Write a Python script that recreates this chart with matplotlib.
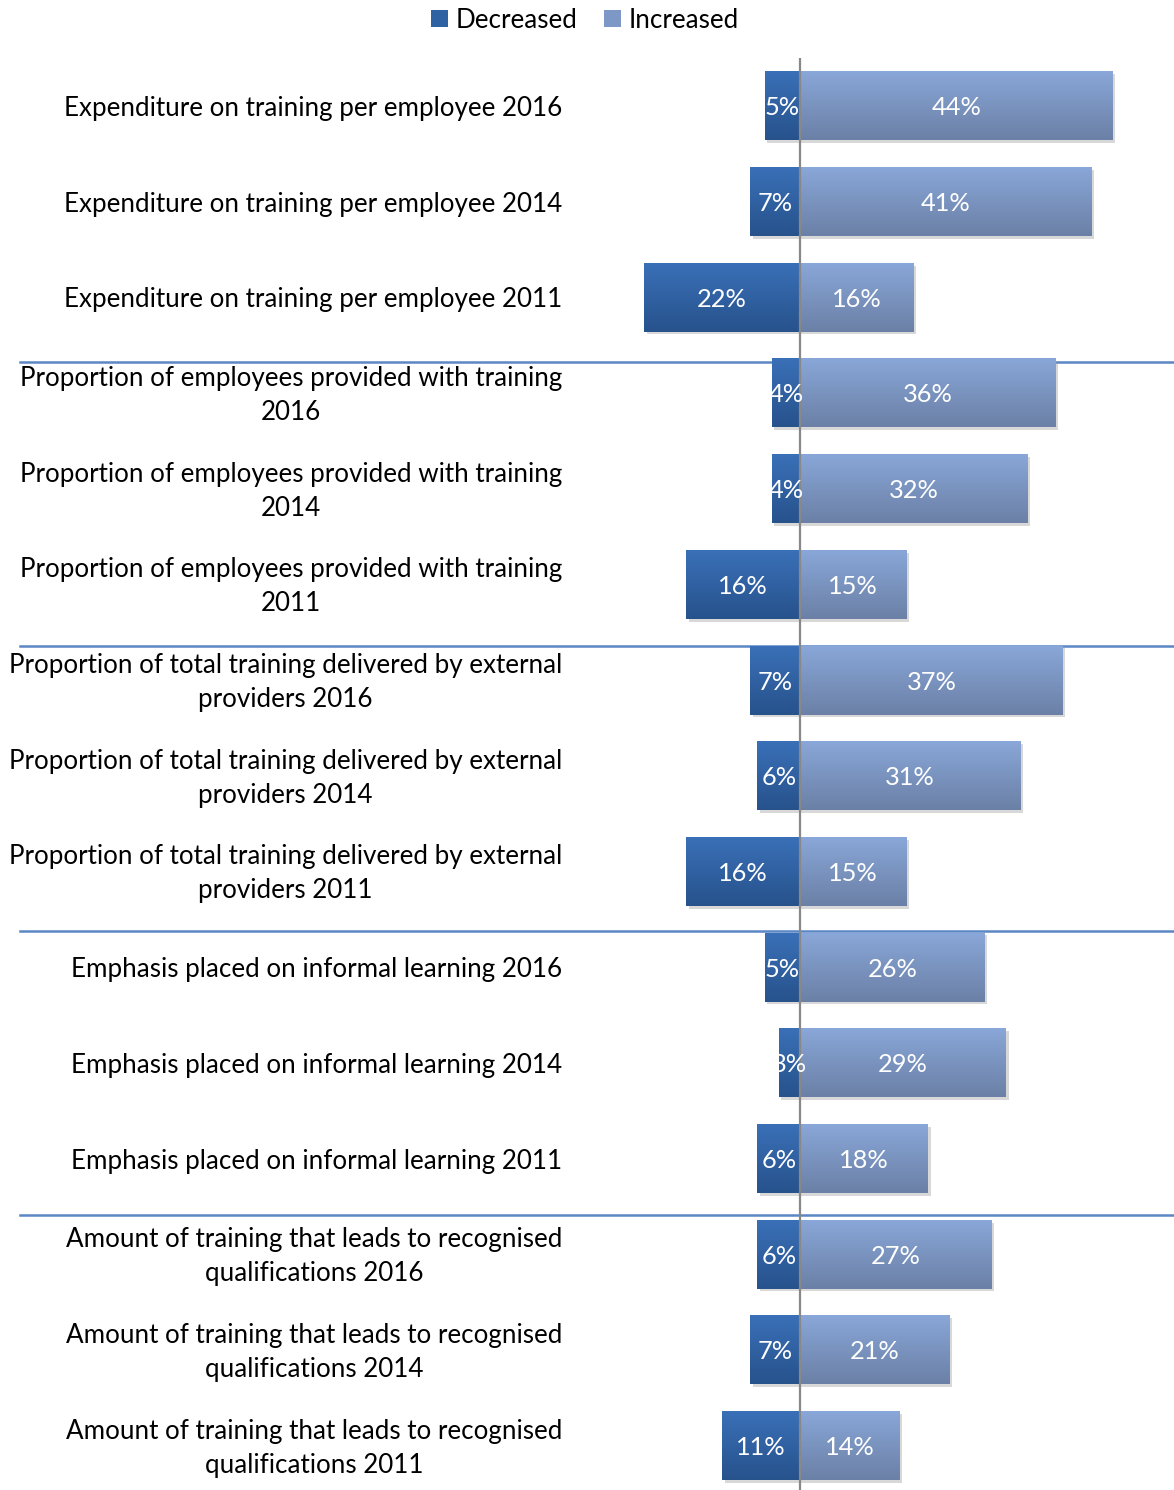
import matplotlib
matplotlib.use("Agg")
import matplotlib.pyplot as plt
import numpy as np
from matplotlib.colors import LinearSegmentedColormap
from matplotlib.patches import Patch
from matplotlib import patheffects as pe
from matplotlib.transforms import blended_transform_factory, ScaledTranslation

plt.rcParams['font.family'] = ['Lato', 'DejaVu Sans']

categories = [
    "Expenditure on training per employee 2016",
    "Expenditure on training per employee 2014",
    "Expenditure on training per employee 2011",
    "Proportion of employees provided with training\n2016",
    "Proportion of employees provided with training\n2014",
    "Proportion of employees provided with training\n2011",
    "Proportion of total training delivered by external\nproviders 2016",
    "Proportion of total training delivered by external\nproviders 2014",
    "Proportion of total training delivered by external\nproviders 2011",
    "Emphasis placed on informal learning 2016",
    "Emphasis placed on informal learning 2014",
    "Emphasis placed on informal learning 2011",
    "Amount of training that leads to recognised\nqualifications 2016",
    "Amount of training that leads to recognised\nqualifications 2014",
    "Amount of training that leads to recognised\nqualifications 2011",
]
decreased = [5, 7, 22, 4, 4, 16, 7, 6, 16, 5, 3, 6, 6, 7, 11]
increased = [44, 41, 16, 36, 32, 15, 37, 31, 15, 26, 29, 18, 27, 21, 14]
series_names = ["Decreased", "Increased"]

W, H = 1174, 1490
fig = plt.figure(figsize=(W / 100, H / 100), dpi=100)

# axes placement in pixels
ax_left, ax_right = 600, 1174
ax_top, ax_bottom = 58, 1490
ax = fig.add_axes([ax_left / W, 1 - ax_bottom / H, (ax_right - ax_left) / W, (ax_bottom - ax_top) / H])

pxper = 7.1
xmin = -(800 - ax_left) / pxper
xmax = (ax_right - 800) / pxper
n = len(categories)
row_px = 95.7
ylo = n - 0.5 - (ax_bottom - ax_top) / row_px
yhi = n - 0.5
ax.axis('off')

ypos = np.array([n - 1 - i for i in range(n)], dtype=float)
bh = 0.72

dec_top, dec_bot = '#3a70b8', '#27528c'
inc_top, inc_bot = '#89a7d8', '#6b80a6'
cm_dec = LinearSegmentedColormap.from_list('dec', [dec_bot, dec_top])
cm_inc = LinearSegmentedColormap.from_list('inc', [inc_bot, inc_top])
grad = np.linspace(0, 1, 256).reshape(-1, 1)

shadow = [pe.SimplePatchShadow(offset=(2.0, -2.0), shadow_rgbFace='#909090', alpha=0.35), pe.Normal()]

bars_d = ax.barh(ypos, [-d for d in decreased], height=bh, color=dec_top, zorder=2)
bars_i = ax.barh(ypos, increased, height=bh, color=inc_top, zorder=2)
for bars, cm in ((bars_d, cm_dec), (bars_i, cm_inc)):
    for b in bars:
        b.set_path_effects(shadow)
        x0, y0 = b.get_x(), b.get_y()
        w, h = b.get_width(), b.get_height()
        im = ax.imshow(grad, extent=[min(x0, x0 + w), max(x0, x0 + w), y0, y0 + h],
                       origin='lower', aspect='auto', cmap=cm, zorder=3)
        im.set_clip_path(b)

ax.set_xlim(xmin, xmax)
ax.set_ylim(ylo, yhi)

fs = 18.7
vfs = 18.3
for y, d, v in zip(ypos, decreased, increased):
    ax.text(-d / 2, y, f"{d}%", color='white', ha='center', va='center_baseline', fontsize=vfs, zorder=6)
    ax.text(v / 2, y, f"{v}%", color='white', ha='center', va='center_baseline', fontsize=vfs, zorder=6)

ax.axvline(0, color='#888888', lw=1.6, zorder=5)

# category labels
tr = blended_transform_factory(fig.transFigure, ax.transData)
tr_multi = tr + ScaledTranslation(0, -2.5 / 100, fig.dpi_scale_trans)
for y, c in zip(ypos, categories):
    multi = '\n' in c
    ax.text(562 / W, y, c, transform=tr_multi if multi else tr, ha='right',
            va='center' if multi else 'center_baseline', multialignment='center',
            fontsize=fs, color='black', linespacing=1.45, clip_on=False)

# group separators (figure pixel rows)
sep_y_px = [362, 646, 931, 1215]
for yp in sep_y_px:
    fig.add_artist(plt.Line2D([20 / W, 1.0], [1 - yp / H, 1 - yp / H], transform=fig.transFigure,
                              color='#5b87c5', lw=1.8, zorder=0))

handles = [Patch(facecolor='#2f62a3', edgecolor='none'), Patch(facecolor='#7d97c6', edgecolor='none')]
fig.legend(handles, series_names, loc='center', bbox_to_anchor=(585 / W, 1 - 20 / H), ncol=2,
           frameon=False, fontsize=fs, handlelength=0.65, handleheight=0.65, handletextpad=0.3,
           columnspacing=1.05)

fig.savefig('out.png', dpi=100)
